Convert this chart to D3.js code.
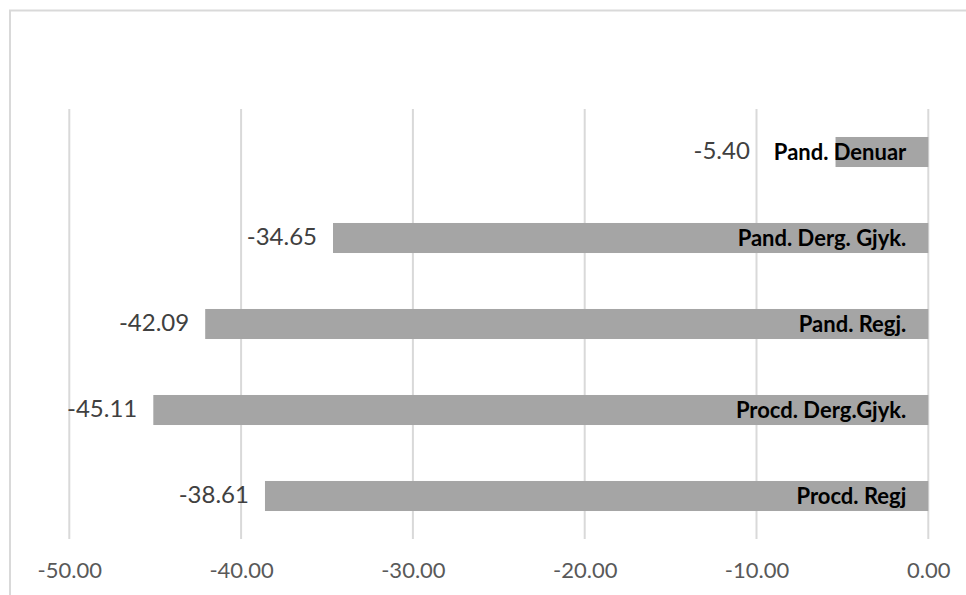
<!DOCTYPE html>
<html>
<head>
<meta charset="utf-8">
<script src="https://cdn.jsdelivr.net/npm/d3@7"></script>
<style>
  html, body { margin: 0; padding: 0; background: #ffffff; }
  svg { display: block; }
</style>
</head>
<body>
<svg id="chart" width="966" height="595"></svg>
<script>
const categories = ["Pand. Denuar", "Pand. Derg. Gjyk.", "Pand. Regj.", "Procd. Derg.Gjyk.", "Procd. Regj"];
const values = [-5.40, -34.65, -42.09, -45.11, -38.61];
const tickValues = [-50, -40, -30, -20, -10, 0];

const svg = d3.select("#chart");
const W = 966, H = 595;
const FONT = "Lato, 'Open Sans', 'DejaVu Sans', sans-serif";
const fmt = d3.formatLocale({ decimal: ".", thousands: ",", grouping: [3], currency: ["", ""], minus: "-" }).format(".2f");

// outer chart border (extends past the bottom/right of the picture)
svg.append("rect")
  .attr("x", 10).attr("y", 10.5)
  .attr("width", W + 20).attr("height", H + 20)
  .attr("fill", "none").attr("stroke", "#d9d9d9").attr("stroke-width", 2);

const plot = { left: 69.3, right: 928.3, top: 109, bottom: 539 };

const x = d3.scaleLinear().domain([-50, 0]).range([plot.left, plot.right]);
const y = d3.scaleBand().domain(categories).range([plot.top, plot.bottom])
  .paddingInner(0.651).paddingOuter(0.3255);

// gridlines
svg.append("g").selectAll("line").data(tickValues).join("line")
  .attr("x1", d => x(d)).attr("x2", d => x(d))
  .attr("y1", plot.top).attr("y2", plot.bottom)
  .attr("stroke", "#d9d9d9").attr("stroke-width", 2);

// axis tick labels
const xAxis = d3.axisBottom(x).tickValues(tickValues).tickSize(0).tickPadding(0)
  .tickFormat(fmt);
const ax = svg.append("g").attr("transform", `translate(0,${plot.bottom})`).call(xAxis);
ax.select(".domain").remove();
ax.selectAll("text")
  .attr("y", 31.5).attr("dy", "0.35em")
  .style("font-family", FONT).style("font-size", "22px").attr("fill", "#595959");

const data = categories.map((c, i) => ({ cat: c, v: values[i] }));

// bars
svg.append("g").selectAll("rect").data(data).join("rect")
  .attr("x", d => x(d.v)).attr("width", d => x(0) - x(d.v))
  .attr("y", d => y(d.cat)).attr("height", y.bandwidth())
  .attr("fill", "#a5a5a5");

// category labels (inside the bar end)
const catLabels = svg.append("g").selectAll("text").data(data).join("text")
  .attr("x", x(0) - 22)
  .attr("y", d => y(d.cat) + y.bandwidth() / 2)
  .attr("dy", "0.36em")
  .attr("text-anchor", "end")
  .style("font-family", FONT).style("font-size", "22px").style("font-weight", "bold")
  .attr("fill", "#000000")
  .text(d => d.cat);

const catLeft = [];
catLabels.each(function () { catLeft.push(this.getBBox().x); });

// value labels (outside the bar end, kept clear of the category label)
svg.append("g").selectAll("text").data(data).join("text")
  .attr("x", (d, i) => Math.min(x(d.v) - 16, catLeft[i] - 24))
  .attr("y", d => y(d.cat) + y.bandwidth() / 2)
  .attr("dy", "0.3em")
  .attr("text-anchor", "end")
  .style("font-family", FONT).style("font-size", "24px")
  .attr("fill", "#404040")
  .text(d => fmt(d.v));
</script>
</body>
</html>
